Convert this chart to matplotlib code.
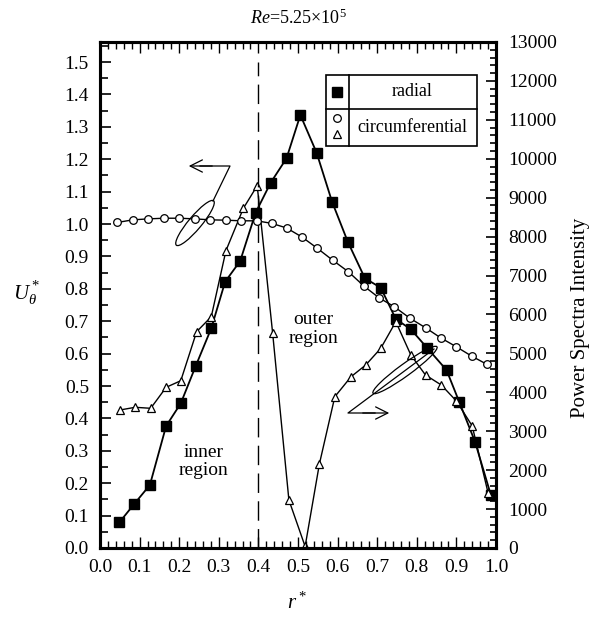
import numpy as np
import matplotlib; matplotlib.use("Agg")
import matplotlib.pyplot as plt
from matplotlib.patches import Ellipse, Rectangle
from matplotlib.ticker import MultipleLocator

plt.rcParams["font.family"] = ["Liberation Serif", "DejaVu Serif"]
plt.rcParams["mathtext.fontset"] = "custom"
plt.rcParams["mathtext.rm"] = "Liberation Serif"
plt.rcParams["mathtext.it"] = "Liberation Serif:italic"

# mean circumferential velocity (left axis)
r_circ = [0.044, 0.083, 0.122, 0.162, 0.200, 0.240, 0.278, 0.317, 0.356, 0.396,
          0.434, 0.471, 0.510, 0.549, 0.588, 0.627, 0.667, 0.705, 0.743, 0.783,
          0.822, 0.860, 0.900, 0.939, 0.977]
u_theta = [1.005, 1.013, 1.016, 1.018, 1.018, 1.016, 1.013, 1.012, 1.010, 1.010,
           1.002, 0.988, 0.960, 0.925, 0.888, 0.853, 0.808, 0.772, 0.745, 0.709,
           0.680, 0.649, 0.621, 0.592, 0.567]

# power spectra intensity (right axis)
r_rad = [0.049, 0.087, 0.126, 0.167, 0.204, 0.242, 0.281, 0.316, 0.354, 0.393,
         0.431, 0.471, 0.506, 0.547, 0.586, 0.626, 0.669, 0.709, 0.747, 0.785,
         0.827, 0.875, 0.907, 0.947, 0.987]
p_rad = [660, 1138, 1619, 3134, 3717, 4683, 5644, 6841, 7373, 8614,
         9385, 10011, 11124, 10155, 8896, 7861, 6929, 6687, 5883, 5618,
         5130, 4573, 3758, 2731, 1362]
r_circum = [0.050, 0.089, 0.128, 0.167, 0.204, 0.244, 0.281, 0.318, 0.362, 0.397,
            0.436, 0.477, 0.518, 0.554, 0.593, 0.634, 0.671, 0.709, 0.747, 0.785,
            0.822, 0.862, 0.900, 0.940, 0.980]
p_circum = [3545, 3615, 3589, 4128, 4298, 5557, 5942, 7638, 8727, 9308,
            5516, 1233, 40, 2158, 3887, 4401, 4701, 5130, 5814, 4958,
            4444, 4187, 3776, 3134, 1415]

W, H = 604, 619
fig = plt.figure(figsize=(W / 100, H / 100), dpi=100)
ax = fig.add_axes([100 / W, 1 - 548 / H, 396 / W, 506 / H])
ax2 = ax.twinx()

ax.set_xlim(0, 1.0); ax.set_ylim(0, 1.562)
ax2.set_ylim(0, 13000)

ax2.plot(r_rad, p_rad, "-s", color="black", lw=1.3, ms=7, mfc="black", zorder=3)
ax2.plot(r_circum, p_circum, "-^", color="black", lw=1.0, ms=6, mfc="white", mew=0.9, zorder=3)
ax.plot(r_circ, u_theta, "-o", color="black", lw=1.0, ms=5.5, mfc="white", mew=0.9, zorder=4)
ax.set_zorder(ax2.get_zorder() + 1); ax.patch.set_visible(False)

ax.axvline(0.4, ymin=0, ymax=0.96, color="black", lw=1.0, ls=(0, (14, 6)))

ax.xaxis.set_major_locator(MultipleLocator(0.1)); ax.xaxis.set_minor_locator(MultipleLocator(0.02))
ax.yaxis.set_major_locator(MultipleLocator(0.1)); ax.yaxis.set_minor_locator(MultipleLocator(0.05))
ax2.yaxis.set_major_locator(MultipleLocator(1000)); ax2.yaxis.set_minor_locator(MultipleLocator(200))
ax.xaxis.set_major_formatter(lambda v, p: f"{v:.1f}")
ax.yaxis.set_major_formatter(lambda v, p: f"{v:.1f}")
ax.tick_params(axis="x", which="both", direction="in", top=True, labelsize=14, pad=8)
ax.tick_params(axis="x", which="major", length=8, width=1)
ax.tick_params(axis="x", which="minor", length=5, width=1)
ax.tick_params(axis="y", which="both", direction="in", labelsize=14, pad=8)
ax.tick_params(axis="y", which="major", length=8, width=1.2)
ax.tick_params(axis="y", which="minor", length=6, width=1.2)
ax2.tick_params(axis="y", which="both", direction="in", labelsize=14, pad=9)
ax2.tick_params(axis="y", which="major", length=7, width=1.2)
ax2.tick_params(axis="y", which="minor", length=4, width=1.2)
for a in (ax, ax2):
    for s in a.spines.values(): s.set_linewidth(2.2)

ax.text(0.261, 0.267, "inner\nregion", ha="center", va="center", fontsize=14, linespacing=1.15)
ax.text(0.539, 0.675, "outer\nregion", ha="center", va="center", fontsize=14, linespacing=1.15)

fig.text(298 / W, 1 - 18 / H, r"$\it{Re}$=5.25×10$^5$", ha="center", va="center", fontsize=13)
fig.text(297 / W, 1 - 603 / H, r"$r^*$", ha="center", va="center", fontsize=15)
fig.text(27 / W, 1 - 293 / H, r"$U_\theta^*$", ha="center", va="center", fontsize=15)
fig.text(580 / W, 1 - 318 / H, "Power Spectra Intensity", ha="center", va="center",
         rotation=90, fontsize=15)

# overlay in pixel units for the hand-drawn legend and pointers
ov = fig.add_axes([0, 0, 1, 1]); ov.set_xlim(0, W); ov.set_ylim(H, 0); ov.axis("off")
ov.add_patch(Rectangle((326, 74.5), 150.5, 71, fill=True, fc="white", ec="black", lw=1.2))
ov.plot([348.5, 348.5], [74.5, 145.5], color="black", lw=1.2)
ov.plot([326, 476.5], [109, 109], color="black", lw=1.2)
ov.plot([337], [92], "s", color="black", ms=7)
ov.plot([337], [118], "o", color="black", mfc="white", ms=5.5, mew=0.9)
ov.plot([337], [134], "^", color="black", mfc="white", ms=6, mew=0.9)
ov.text(412, 92, "radial", ha="center", va="center", fontsize=13)
ov.text(412, 127, "circumferential", ha="center", va="center", fontsize=13)

ov.add_patch(Ellipse((195, 223), 58, 13, angle=-50, fill=False, ec="black", lw=0.9))
ov.plot([213, 230, 200], [201, 166, 166], color="black", lw=0.9)
ov.annotate("", xy=(186, 166), xytext=(215, 166),
            arrowprops=dict(arrowstyle="->", lw=0.9, mutation_scale=22, color="black"))
ov.add_patch(Ellipse((405, 370), 79, 12, angle=-36, fill=False, ec="black", lw=0.9))
ov.plot([434, 348, 375], [349, 413, 413], color="black", lw=0.9)
ov.annotate("", xy=(392, 413), xytext=(360, 413),
            arrowprops=dict(arrowstyle="->", lw=0.9, mutation_scale=22, color="black"))

fig.savefig("out.png", dpi=100)
